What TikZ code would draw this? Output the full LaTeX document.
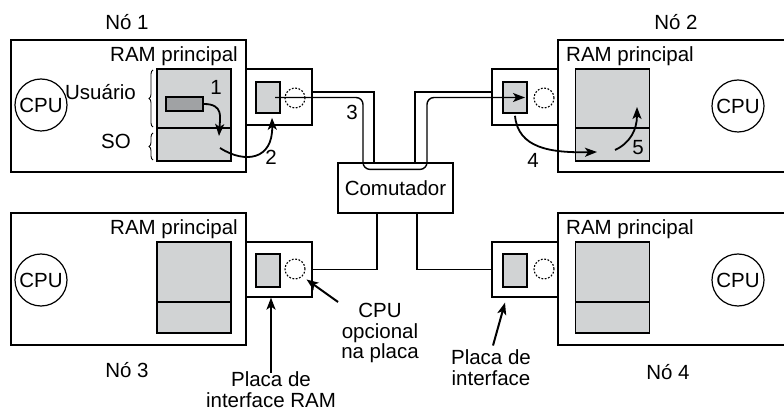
\documentclass[tikz,border=0pt]{standalone}
\usepackage{fontspec}
\setmainfont{Liberation Sans}
\usepackage{xcolor}
\usepackage{tikz}
\usetikzlibrary{arrows.meta,positioning,decorations.pathreplacing}

\definecolor{memgray}{HTML}{D1D3D4}
\definecolor{procgray}{HTML}{A0A2A4}

\begin{document}
\begin{tikzpicture}[
  x=1pt, y=-1pt,
  font=\fontsize{20.5}{20.5}\selectfont,
  nodebox/.style={draw, line width=1.2pt, inner sep=0pt},
  card/.style={draw, line width=1.2pt, fill=white, minimum width=66pt, inner sep=0pt},
  nic/.style={draw, line width=1.6pt, fill=memgray, minimum width=24pt, inner sep=0pt},
  ram/.style={draw, line width=1.8pt, fill=memgray, minimum width=74pt, inner sep=0pt},
  proc/.style={draw, line width=1.8pt, fill=procgray, minimum width=37pt, minimum height=14pt, inner sep=0pt},
  cpu/.style={draw, circle, line width=1.2pt, minimum size=52pt, inner sep=0pt},
  spare/.style={draw, circle, line width=1.1pt, dash pattern=on 1.8pt off 1.6pt, minimum size=20pt, inner sep=0pt},
  label/.style={inner sep=1pt},
  cable/.style={line width=1.4pt},
  flow/.style={line width=1.8pt, -{Stealth[length=12pt, width=9pt, inset=3pt]}},
  pointer/.style={line width=2pt, -{Stealth[length=12pt, width=9pt, inset=3pt]}},
  curly/.style={decorate, decoration={brace, amplitude=4pt}, line width=0.9pt}
]
\useasboundingbox (0,0) rectangle (784,411);

% the four machines
\node[nodebox, minimum width=235pt, minimum height=132pt] (n1) at (128.5,106) {};
\node[nodebox, minimum width=235pt, minimum height=132pt] (n2) at (675.5,106) {};
\node[nodebox, minimum width=235pt, minimum height=132pt] (n3) at (128.5,279) {};
\node[nodebox, minimum width=235pt, minimum height=132pt] (n4) at (675.5,279) {};

\node[label] (t1) at (127,22) {Nó 1};
\node[label] (t2) at (676,22) {Nó 2};
\node[label] (t3) at (127,370) {Nó 3};
\node[label] (t4) at (668,372) {Nó 4};

\node[label, anchor=base east] (r1) at (239,62) {RAM principal};
\node[label, anchor=base west] (r2) at (565,62) {RAM principal};
\node[label, anchor=base east] (r3) at (239,235) {RAM principal};
\node[label, anchor=base west] (r4) at (565,235) {RAM principal};

\node[cpu] (cpu1) at (41,105) {CPU};
\node[cpu] (cpu2) at (738,106) {CPU};
\node[cpu] (cpu3) at (41,280) {CPU};
\node[cpu] (cpu4) at (738,280) {CPU};

% main memory: user part above, OS part below
\node[ram, minimum height=59pt] (user1) at (194,98.5) {};
\node[ram, minimum height=33pt] (os1) at (194,144.5) {};
\node[ram, minimum height=59pt] (user2) at (612.5,98.5) {};
\node[ram, minimum height=33pt] (os2) at (612.5,144.5) {};
\node[ram, minimum height=60pt] (user3) at (194,272) {};
\node[ram, minimum height=31pt] (os3) at (194,317.5) {};
\node[ram, minimum height=60pt] (user4) at (612.5,272) {};
\node[ram, minimum height=31pt] (os4) at (612.5,317.5) {};

\node[proc] (proc1) at (184.5,104) {};

\node[label, anchor=base east] (usr) at (137,100) {Usuário};
\node[label, anchor=base east] (so) at (132,149) {SO};
\draw[curly] (153,127) -- (153,70);
\draw[curly] (153,160) -- (153,133);

% interface boards
\node[card, minimum height=56pt] (card1) at (279,97) {};
\node[card, minimum height=56pt] (card2) at (525,97) {};
\node[card, minimum height=55pt] (card3) at (279,269.5) {};
\node[card, minimum height=55pt] (card4) at (525,269.5) {};

\node[nic, minimum height=31pt] (nic1) at (268,97.5) {};
\node[nic, minimum height=31pt] (nic2) at (515,97.5) {};
\node[nic, minimum height=33pt] (nic3) at (268,270.5) {};
\node[nic, minimum height=33pt] (nic4) at (515,270.5) {};

\node[spare] (circ1) at (295,98) {};
\node[spare] (circ2) at (544,98) {};
\node[spare] (circ3) at (295,269) {};
\node[spare] (circ4) at (544,269) {};

% switch
\node[draw, line width=1.2pt, minimum width=115pt, minimum height=50pt, inner sep=0pt] (sw) at (395.5,188) {Comutador};

% wiring
\draw[cable] ([yshift=5pt]card1.east) -| ([xshift=-21.5pt]sw.north);
\draw[cable] ([yshift=5pt]card2.west) -| ([xshift=19.5pt]sw.north);
\draw[cable] (card3.east) -| ([xshift=-18.5pt]sw.south);
\draw[cable] (card4.west) -| ([xshift=21.5pt]sw.south);

\coordinate (dipL) at ([xshift=-32.5pt,yshift=-7pt]sw.north);
\coordinate (dipR) at ([xshift=31.5pt,yshift=-7pt]sw.north);
\draw[cable, rounded corners=7pt, -{Stealth[length=12pt, width=9pt, inset=3pt]}]
  ([xshift=7pt]nic1.center) -| (dipL) -- (dipR) |- ([xshift=10pt]nic2.center);

% message path
\coordinate (a1) at (219,136);
\coordinate (a2) at (220,148);
\coordinate (a4) at (597,152);
\coordinate (a5) at (615,150);
\draw[flow] (proc1.east) .. controls (224,104) and (220,118) .. (a1);
\draw[flow] (a2) .. controls (245,164) and (273,160) .. ([xshift=4pt,yshift=-4pt]nic1.south);
\draw[flow] ([yshift=-2pt]nic2.south) .. controls (518,148) and (550,153) .. (a4);
\draw[flow] (a5) .. controls (630,143) and (637,130) .. ([xshift=24.5pt,yshift=-8.5pt]user2.center);

\node[label] (s1) at (216,87) {1};
\node[label] (s2) at (271,157) {2};
\node[label] (s3) at (352,112) {3};
\node[label] (s4) at (533,160) {4};
\node[label] (s5) at (638,148) {5};

% callouts
\node[label, align=center] (ifram) at (271,389.5) {Placa de\\interface RAM};
\node[label, align=center] (optcpu) at (380,333) {CPU\\opcional\\na placa};
\node[label, align=center] (ifnic) at (491,367.5) {Placa de\\interface};

\draw[pointer] ([yshift=-2pt]ifram.north) -- (ifram.north |- card3.south);
\draw[pointer] ([xshift=-2pt]optcpu.north west) -- ([xshift=4pt,yshift=-3pt]circ3.south east);
\draw[pointer] ([xshift=2pt,yshift=3pt]ifnic.north) -- ([xshift=-20pt,yshift=-5pt]card4.south);
\end{tikzpicture}
\end{document}
